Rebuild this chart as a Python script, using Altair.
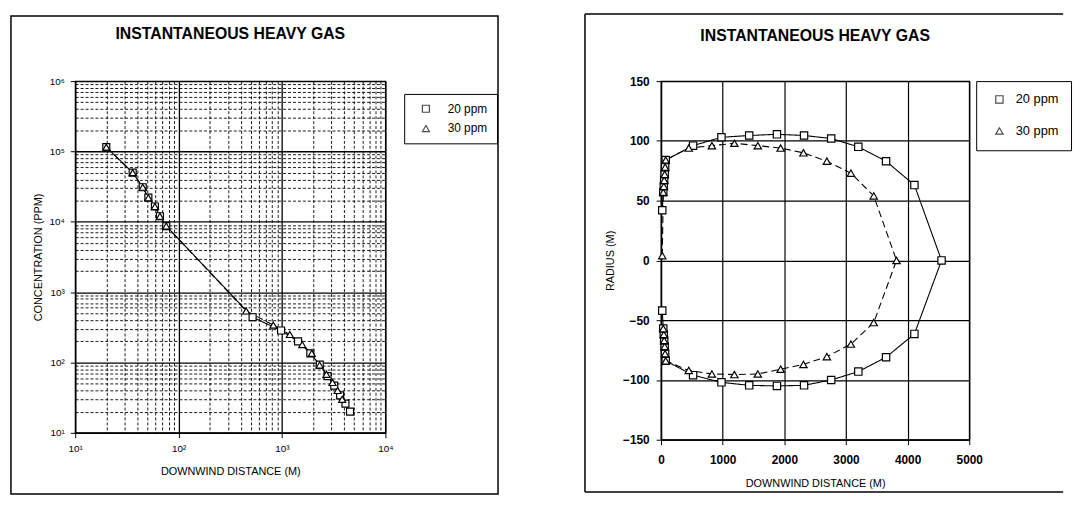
import altair as alt
import pandas as pd

FONT = "Liberation Sans"
series_names = ["20 ppm", "30 ppm"]

# ---- Left chart: concentration vs downwind distance (log-log) ----
dist_20 = [20, 36, 45, 51, 59, 66, 76, 520, 980, 1430, 1880, 2320, 2760, 3200, 3650, 4110, 4550]
conc_20 = [115000, 50000, 31000, 22000, 16500, 12000, 8700, 440, 285, 200, 135, 93, 64, 47, 34, 26, 20]
dist_30 = [20, 36, 45, 51, 59, 66, 76, 450, 825, 1190, 1570, 1940, 2310, 2690, 3080, 3450, 3820]
conc_30 = [115000, 50000, 31000, 22000, 16500, 12000, 8700, 540, 340, 250, 180, 135, 92, 68, 52, 40, 30]

# ---- Right chart: cloud radius contour ----
upper_r_20 = [42, 57, 62, 67, 72, 78, 84, 96, 103, 104.5, 105.5, 104.5, 102, 95, 83, 63, 0]
lower_r_20 = [-42, -57, -62, -67, -72, -78, -84, -96, -102, -104.5, -105, -104.5, -100, -93, -81, -61.5]
upper_r_30 = [4, 57, 62, 67, 72, 78, 84, 94, 96, 98, 96, 94, 90, 83, 73, 54, 0]
lower_r_30 = [-57, -62, -67, -72, -78, -84, -92, -95, -95.5, -95, -91, -87, -80.5, -70, -52]

# tick values
x_log_ticks = [m * 10 ** k for k in range(1, 4) for m in range(1, 10)] + [10000]
y_log_ticks = [m * 10 ** k for k in range(1, 6) for m in range(1, 10)] + [1000000]
x_lin_ticks = [0, 1000, 2000, 3000, 4000, 5000]
y_lin_ticks = [-150, -100, -50, 0, 50, 100, 150]

rows = []
for s, xs, ys in [("20 ppm", dist_20, conc_20), ("30 ppm", dist_30, conc_30)]:
    for i, (a, b) in enumerate(zip(xs, ys)):
        rows.append({"series": s, "x": a, "y": b, "order": i})
left_df = pd.DataFrame(rows)

rows = []
px = dist_20 + dist_20[:-1][::-1]
py = upper_r_20 + lower_r_20[::-1]
for i, (a, b) in enumerate(zip(px, py)):
    rows.append({"series": "20 ppm", "x": a, "y": b, "order": i})
px = dist_30 + dist_30[1:-1][::-1]
py = upper_r_30 + lower_r_30[::-1]
for i, (a, b) in enumerate(zip(px, py)):
    rows.append({"series": "30 ppm", "x": a, "y": b, "order": i})
right_df = pd.DataFrame(rows)

box_df = pd.DataFrame({"k": [1]})

MAJ = "abs(log(datum.value)/LN10 - round(log(datum.value)/LN10)) < 0.01"
LBL = f"({MAJ}) ? '10' + ['⁰','¹','²','³','⁴','⁵','⁶'][round(log(datum.value)/LN10)] : ''"

grid_dash = {"condition": {"test": MAJ, "value": [1, 0]}, "value": [3, 2]}
grid_width = {"condition": {"test": MAJ, "value": 1.3}, "value": 0.9}
tick_size = {"condition": {"test": MAJ, "value": 5}, "value": 0}

dash_scale = alt.Scale(domain=series_names, range=[[1, 0], [7, 4]])
legend_shape_scale = alt.Scale(domain=series_names, range=["square", "triangle-up"])


def log_axis(title, values, label_size, tpad):
    return alt.Axis(
        title=title, values=values, labelExpr=LBL, labelOverlap=False, labelFlush=False,
        grid=True, gridColor="black", gridDash=grid_dash, gridWidth=grid_width, gridOpacity=1,
        tickSize=tick_size, tickColor="black", domainColor="black", domainWidth=1.3,
        labelFontSize=label_size, titleFontSize=11, titlePadding=tpad, labelPadding=6,
    )


X_left = alt.X("x:Q", scale=alt.Scale(type="log", domain=[10, 10000], nice=False),
               axis=log_axis("DOWNWIND DISTANCE (M)", x_log_ticks, 10, 12))
Y_left = alt.Y("y:Q", scale=alt.Scale(type="log", domain=[10, 1000000], nice=False),
               axis=log_axis("CONCENTRATION (PPM)", y_log_ticks, 10, 6))


def panel(df, X, Y, w, h, frame, title_xy, legend, size):
    layers = list(frame)
    layers.append(
        alt.Chart(box_df).mark_text(text="INSTANTANEOUS HEAVY GAS", font=FONT, fontSize=16,
                                    fontWeight="bold", align="center", baseline="middle",
                                    color="black")
        .encode(x=alt.value(title_xy[0]), y=alt.value(title_xy[1]))
    )
    layers.append(
        alt.Chart(df).mark_line(color="black", strokeWidth=1.1).encode(
            x=X, y=Y,
            strokeDash=alt.StrokeDash("series:N", scale=dash_scale, legend=None),
            order=alt.Order("order:Q"),
        )
    )
    for s, shp in [("20 ppm", "square"), ("30 ppm", "triangle-up")]:
        layers.append(
            alt.Chart(df).transform_filter(alt.datum.series == s)
            .mark_point(shape=shp, filled=True, fill="white", stroke="black", strokeWidth=1.2,
                        size=size, opacity=1)
            .encode(x=X, y=Y)
        )
    # legend-only layer: no rows drawn, legend entries come from the scale domain
    layers.append(
        alt.Chart(df).transform_filter("false")
        .mark_point(filled=False, color="black", strokeWidth=1.2, size=size)
        .encode(x=X, y=Y,
                shape=alt.Shape("series:N", scale=legend_shape_scale, legend=legend))
    )
    return alt.layer(*layers).properties(width=w, height=h)


left_frame = [
    alt.Chart(box_df).mark_rect(fill="white", fillOpacity=0, stroke="black", strokeWidth=1.5)
    .encode(x=alt.value(-65), x2=alt.value(428), y=alt.value(-66), y2=alt.value(418))
]
left_legend = alt.Legend(
    title=None, orient="none", legendX=333, legendY=13, strokeColor="black", fillColor="white",
    padding=9, rowPadding=8, labelFont=FONT, labelFontSize=12, labelOffset=16,
    symbolSize=50, symbolOffset=7, symbolStrokeWidth=1.2,
    cornerRadius=0, labelColor="black",
)
left = panel(left_df, X_left, Y_left, 314, 356, left_frame, (157, -48), left_legend, 50)

X_right = alt.X("x:Q", scale=alt.Scale(domain=[0, 5000], nice=False),
                axis=alt.Axis(title="DOWNWIND DISTANCE (M)", values=x_lin_ticks, labelFlush=False,
                              format="d",
                              grid=True, gridColor="black", gridWidth=1.2, gridOpacity=1,
                              tickSize=5, tickColor="black", domainColor="black", domainWidth=1.3,
                              labelFontSize=12, labelFontWeight="bold", labelPadding=10,
                              titleFontSize=11, titlePadding=12, labelOverlap=False))
Y_right = alt.Y("y:Q", scale=alt.Scale(domain=[-150, 150], nice=False),
                axis=alt.Axis(title="RADIUS (M)", values=y_lin_ticks, labelFlush=False,
                              format="d",
                              grid=True, gridColor="black", gridWidth=1.2, gridOpacity=1,
                              tickSize=5, tickColor="black", domainColor="black", domainWidth=1.3,
                              labelFontSize=12, labelFontWeight="bold", labelPadding=7,
                              titleFontSize=11, titlePadding=7, labelOverlap=False))

right_frame = [
    alt.Chart(box_df).mark_rule(color="black", strokeWidth=1.5)
    .encode(x=alt.value(-77), x2=alt.value(407), y=alt.value(-68)),
    alt.Chart(box_df).mark_rule(color="black", strokeWidth=1.5)
    .encode(x=alt.value(-77), y=alt.value(-68), y2=alt.value(416)),
    alt.Chart(box_df).mark_rule(color="black", strokeWidth=1.5)
    .encode(x=alt.value(-77), x2=alt.value(407), y=alt.value(416)),
]
right_legend = alt.Legend(
    title=None, orient="none", legendX=319, legendY=0, strokeColor="black", fillColor="white",
    padding=12, rowPadding=18, labelFont=FONT, labelFontSize=13, labelOffset=10,
    symbolSize=55, symbolOffset=5, symbolStrokeWidth=1.2,
    cornerRadius=0, labelColor="black",
)
right = panel(right_df, X_right, Y_right, 312, 363, right_frame, (156, -46), right_legend, 55)

chart = (
    alt.hconcat(left, right, spacing=84)
    .resolve_legend(shape="independent")
    .properties(padding={"left": 1, "top": 1, "right": 1, "bottom": 1}, background="white")
    .configure_view(stroke="black", strokeWidth=1.3)
    .configure_axis(labelFont=FONT, titleFont=FONT, labelColor="black", titleColor="black",
                    titleFontWeight="normal")
)

chart.save("out.html", embed_options={"renderer": "svg", "actions": False})
